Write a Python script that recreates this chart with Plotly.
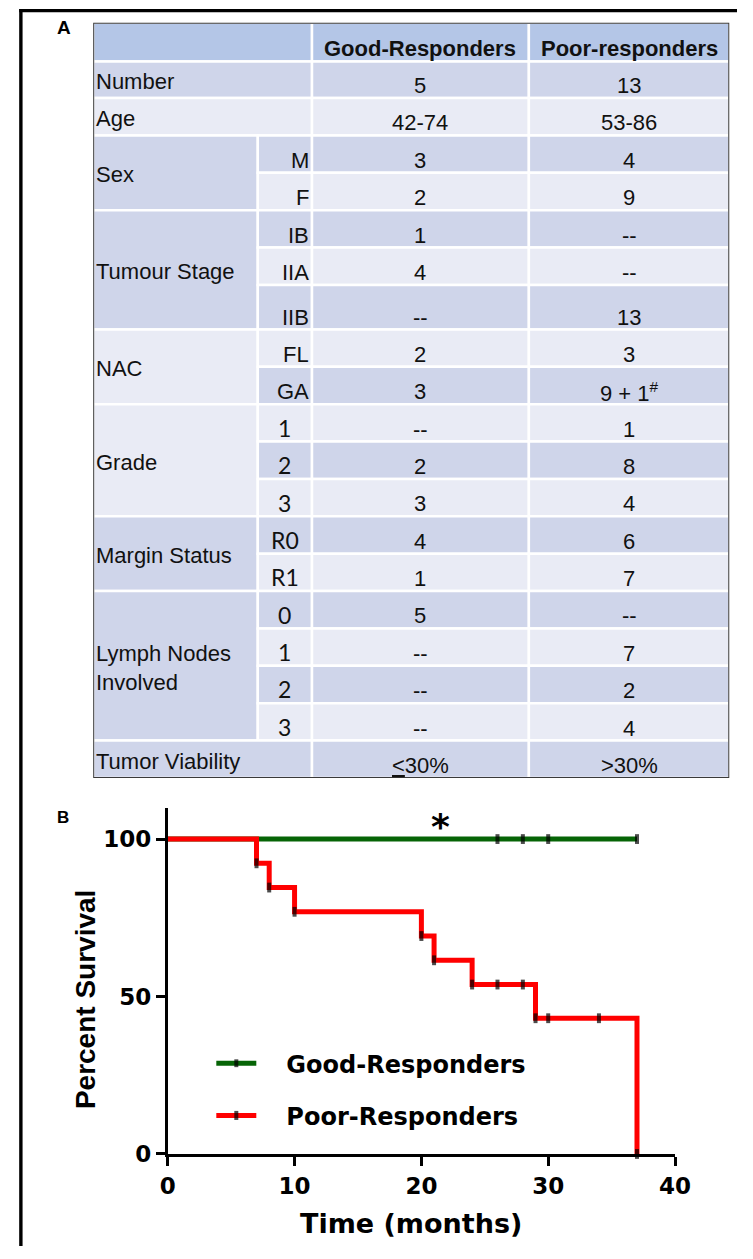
import plotly.graph_objects as go

# ---------------- Data: panel A (patient table) ----------------
header_labels = ["Good-Responders", "Poor-responders"]
group_labels = ["Number", "Age", "Sex", "Tumour Stage", "NAC", "Grade",
                "Margin Status", "Lymph Nodes<br>Involved", "Tumor Viability"]
group_sizes = [1, 1, 2, 3, 2, 3, 2, 4, 1]
sub_labels = ["", "", "M", "F", "IB", "IIA", "IIB", "FL", "GA",
              "1", "2", "3", "R0", "R1", "0", "1", "2", "3", ""]
good_values = ["5", "42-74", "3", "2", "1", "4", "--", "2", "3",
               "--", "2", "3", "4", "1", "5", "--", "--", "--", "<u><</u>30%"]
poor_values = ["13", "53-86", "4", "9", "--", "--", "13", "3", "9 + 1<sup>#</sup>",
               "1", "8", "4", "6", "7", "--", "7", "2", "4", ">30%"]

# ---------------- Data: panel B (Kaplan-Meier survival) ----------------
good_name = "Good-Responders"
good_time = [0, 26, 28, 30, 37]
good_surv = [100, 100, 100, 100, 100]
poor_name = "Poor-Responders"
poor_time = [0, 7, 8, 10, 20, 21, 24, 26, 28, 29, 30, 34, 37]
poor_surv = [100, 92.3, 84.6, 76.9, 69.2, 61.5, 53.8, 53.8, 53.8, 43.1, 43.1, 43.1, 0]
x_ticks = [0, 10, 20, 30, 40]
y_ticks = [0, 50, 100]
x_title = "Time (months)"
y_title = "Percent Survival"
signif_mark = "*"

# ---------------- Layout / style constants ----------------
W, H = 753, 1259
def px_x(p):
    return p / W
def px_y(p):
    return 1 - p / H

HEADER_C = "#b4c6e7"
DARK_C = "#cfd5ea"
LIGHT_C = "#e9ebf5"
GREEN = "#066406"
RED = "#ff0000"
ARIAL = "Liberation Sans"
CALIBRI_LIKE = "Lato"
BOLD_PLOT = "DejaVu Sans"
calibri_groups = {"Grade", "Margin Status", "Lymph Nodes<br>Involved"}
NBSP = "\u00a0"

col_widths = [170, 56, 224, 207]
header_h = 39.0
body_heights = [37.0] + [37.7] * 5 + [45.0] + [37.7] * 12
TAB_L, TAB_T, TAB_R, TAB_B = 88, 23, 745, 786

col_edges = [0]
for w in col_widths:
    col_edges.append(col_edges[-1] + w)
row_edges = [header_h]
for h in body_heights:
    row_edges.append(row_edges[-1] + h)
total_w, total_h = col_edges[-1], row_edges[-1]

shapes = []
annotations = []

def cell(x0, x1, y0, y1, color):
    shapes.append(dict(type="rect", xref="x2", yref="y2", x0=x0, x1=x1, y0=y0, y1=y1,
                       fillcolor=color, line=dict(color="white", width=2.5), layer="below"))

def text(x, y, s, size=22, family=ARIAL, anchor="center", bold=False):
    annotations.append(dict(xref="x2", yref="y2", x=x, y=y, text=s, showarrow=False,
                            xanchor=anchor, yanchor="middle", borderpad=0,
                            align="left" if anchor == "left" else "center",
                            font=dict(family=family, size=size, color="#111111",
                                      weight=700 if bold else 400)))

def base_y(bottom, size, asc=0.3465):
    return bottom - 5 - asc * size

# header
cell(col_edges[0], col_edges[2], 0, header_h, HEADER_C)
for c in range(2):
    cell(col_edges[2 + c], col_edges[3 + c], 0, header_h, HEADER_C)
    text((col_edges[2 + c] + col_edges[3 + c]) / 2, base_y(header_h, 22), header_labels[c], bold=True)

# body
r = 0
for g, n in zip(group_labels, group_sizes):
    top, bot = row_edges[r], row_edges[r + n]
    color0 = DARK_C if r % 2 == 0 else LIGHT_C
    merged = (n == 1 and sub_labels[r] == "")
    if merged:
        cell(col_edges[0], col_edges[2], top, bot, color0)
    else:
        cell(col_edges[0], col_edges[1], top, bot, color0)
    text(col_edges[0] + 1.5, (top + bot) / 2 + 2, g, anchor="left")
    for k in range(r, r + n):
        t, b = row_edges[k], row_edges[k + 1]
        color = DARK_C if k % 2 == 0 else LIGHT_C
        if not merged:
            cell(col_edges[1], col_edges[2], t, b, color)
            if g in calibri_groups:
                text((col_edges[1] + col_edges[2]) / 2, base_y(b, 23, 0.387), sub_labels[k],
                     size=23, family=CALIBRI_LIKE)
            else:
                text(col_edges[2] - 2.5, base_y(b, 22), sub_labels[k], anchor="right")
        cell(col_edges[2], col_edges[3], t, b, color)
        cell(col_edges[3], col_edges[4], t, b, color)
        text((col_edges[2] + col_edges[3]) / 2, base_y(b, 22), good_values[k])
        text((col_edges[3] + col_edges[4]) / 2, base_y(b, 22), poor_values[k])
    r += n

# table outline
shapes.append(dict(type="rect", xref="x2", yref="y2", x0=0, x1=total_w, y0=0, y1=total_h,
                   line=dict(color="#3a3a3a", width=2), fillcolor="rgba(0,0,0,0)"))

# outer figure frame: only top and left edges fall inside the picture
FRAME_X, FRAME_Y = 13.3, 10.7
shapes.append(dict(type="line", xref="paper", yref="paper",
                   x0=px_x(FRAME_X - 1.7), x1=1, y0=px_y(FRAME_Y), y1=px_y(FRAME_Y),
                   line=dict(color="black", width=3.4)))
shapes.append(dict(type="line", xref="paper", yref="paper",
                   x0=px_x(FRAME_X), x1=px_x(FRAME_X), y0=px_y(FRAME_Y - 1.7), y1=0,
                   line=dict(color="black", width=3.4)))

# panel letters
for letter, lx, ly, ls in [("A", 58, 28, 19), ("B", 57, 826, 17)]:
    annotations.append(dict(xref="paper", yref="paper", x=px_x(lx), y=px_y(ly), text=letter,
                            showarrow=False, xanchor="center", yanchor="middle",
                            font=dict(family=ARIAL, size=ls, color="black", weight=700)))

# ---------------- Panel B traces ----------------
fig = go.Figure()
def censor_sizes(times):
    return [0 if t == 0 else 7 for t in times]

fig.add_trace(go.Scatter(x=good_time, y=good_surv, name=NBSP * 3 + good_name, mode="lines+markers",
                         legendgroup="good",
                         line=dict(color=GREEN, width=5, shape="hv"),
                         marker=dict(symbol="line-ns", size=censor_sizes(good_time),
                                     line=dict(color="black", width=4), color="black"),
                         cliponaxis=False))
fig.add_trace(go.Scatter(x=poor_time, y=poor_surv, name=NBSP * 3 + poor_name, mode="lines+markers",
                         legendgroup="poor",
                         line=dict(color=RED, width=5, shape="hv"),
                         marker=dict(symbol="line-ns", size=censor_sizes(poor_time),
                                     line=dict(color="black", width=4), color="black"),
                         cliponaxis=False))

axis_common = dict(showline=True, linewidth=3, linecolor="black", ticks="outside",
                   ticklen=9, tickwidth=3, tickcolor="black", showgrid=False, zeroline=False,
                   tickfont=dict(family=BOLD_PLOT, size=23, color="black", weight=700),
                   fixedrange=True)

annotations.append(dict(xref="paper", yref="y", x=px_x(80), y=49, text=y_title, textangle=-90,
                        showarrow=False, xanchor="center", yanchor="middle",
                        font=dict(family=ARIAL, size=28, color="black", weight=700)))
annotations.append(dict(xref="x", yref="paper", x=19.2, y=px_y(1236.7), text=x_title,
                        showarrow=False, xanchor="center", yanchor="middle",
                        font=dict(family=BOLD_PLOT, size=27, color="black", weight=700)))
annotations.append(dict(xref="x", yref="y", x=21.5, y=104, text=signif_mark,
                        showarrow=False, xanchor="center", yanchor="middle",
                        font=dict(family=BOLD_PLOT, size=36, color="black", weight=700)))

fig.update_layout(
    width=W, height=H, margin=dict(l=0, r=0, t=0, b=0),
    paper_bgcolor="white", plot_bgcolor="white",
    xaxis=dict(domain=[px_x(165), px_x(689)], range=[0, 40], tickvals=x_ticks, **axis_common),
    yaxis=dict(domain=[px_y(1166), px_y(816)], range=[0, 110], tickvals=y_ticks, **axis_common),
    xaxis2=dict(domain=[px_x(TAB_L), px_x(TAB_R)], range=[0, total_w], visible=False,
                anchor="y2", fixedrange=True),
    yaxis2=dict(domain=[px_y(TAB_B), px_y(TAB_T)], range=[total_h, 0], visible=False,
                anchor="x2", fixedrange=True),
    shapes=shapes, annotations=annotations,
    showlegend=True,
    legend=dict(x=px_x(210), y=px_y(1052), xanchor="left", yanchor="top",
                font=dict(family=BOLD_PLOT, size=24, color="black", weight=700),
                bgcolor="rgba(0,0,0,0)", traceorder="grouped", tracegroupgap=18,
                itemwidth=40),
)

fig.write_html(
    "out.html",
    config={"displayModeBar": False, "responsive": False},
    post_script="document.body.style.margin='0px';document.body.style.padding='0px';",
)
